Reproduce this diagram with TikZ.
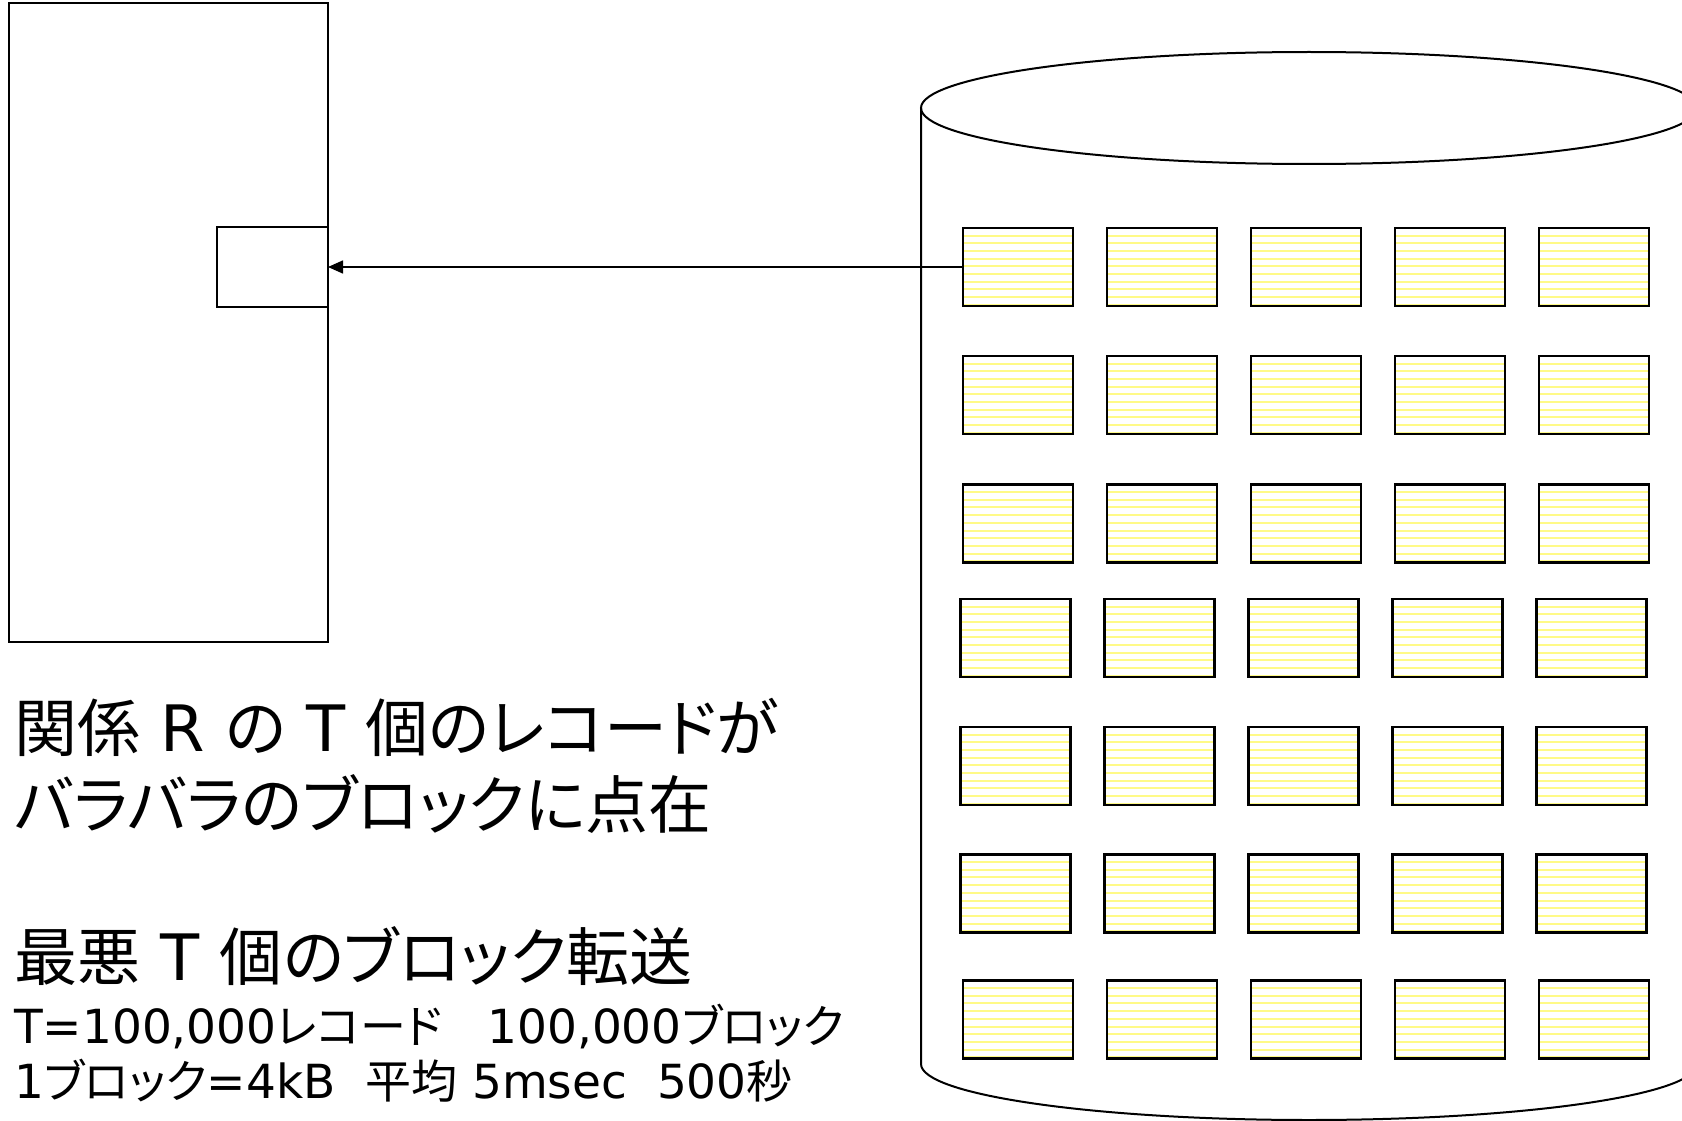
\documentclass[tikz,border=0pt]{standalone}
\usepackage{fontspec}
\setmainfont[RawFeature=+palt]{Noto Sans CJK JP}
\newfontfamily\lat{DejaVu Sans}
\usetikzlibrary{arrows.meta,calc}
\definecolor{stripe}{RGB}{255,250,135}
\newcommand{\bigL}[1]{{\lat\fontsize{64}{64}\selectfont #1}}
\newcommand{\smL}[1]{{\lat\fontsize{47}{47}\selectfont #1}}
\begin{document}
\begin{tikzpicture}[x=1pt,y=-1pt,
  frame/.style={draw=black,line width=2pt,inner sep=0pt,outer sep=0pt},
  blk/.style={draw=black,line width=2.2pt,inner sep=0pt,outer sep=0pt,
    minimum width=110pt,minimum height=78pt,
    path picture={\foreach \k in {0,...,9}{
      \draw[stripe,line width=2pt]
        ($(path picture bounding box.north west)+(0,7.5+\k*7.7)$) --
        ($(path picture bounding box.north east)+(0,7.5+\k*7.7)$);}}},
  cyl/.style={draw=black,line width=2pt},
  arr/.style={draw=black,line width=1.5pt,-{Triangle[length=15pt,width=13pt]}},
  big/.style={anchor=base west,inner sep=0pt,font=\fontsize{63}{63}\selectfont},
  small/.style={anchor=base west,inner sep=0pt,font=\fontsize{46}{46}\selectfont}]
\useasboundingbox (0,0) rectangle (1682,1121);
\clip (0,0) rectangle (1682,1121);
% memory
\node[frame,minimum width=319.5pt,minimum height=638.5pt] (mem) at (168.25,322.75) {};
\node[frame,minimum width=111pt,minimum height=80pt] (buf) at (272.5,267) {};
% cylinder
\draw[cyl] (1309,108) ellipse [x radius=388, y radius=56];
\draw[cyl] (921,108) -- (921,1064) arc[start angle=180,end angle=0,x radius=388,y radius=56] -- (1697,108);
% blocks
\foreach \r/\y/\dx in {1/267/0,2/395/0,3/523.5/0,4/638/-2.5,5/766/-2.5,6/893.5/-2.5,7/1019.5/0}{
  \foreach \c in {1,...,5}{
    \node[blk] (b\r\c) at ({1018+\dx+144*(\c-1)},\y) {};
  }
}
\draw[arr] (b11.west) -- (buf.east);
% texts
\node[big] (t1) at (14,751) {関係\bigL{\ R\ }の\bigL{\ T\ }個のレコードが};
\node[big] (t2) at (14,828) {バラバラのブロックに点在};
\node[big] (t3) at (14,980) {最悪\bigL{\ T\ }個のブロック転送};
\node[small] (t4) at (14,1043) {\smL{T=100,000}レコード\smL{\ \ \ 100,000}ブロック};
\node[small] (t5) at (14,1098) {\smL{1}ブロック\smL{=4kB\ \ }平均\smL{\ 5msec\ \ 500}秒};
\end{tikzpicture}
\end{document}
